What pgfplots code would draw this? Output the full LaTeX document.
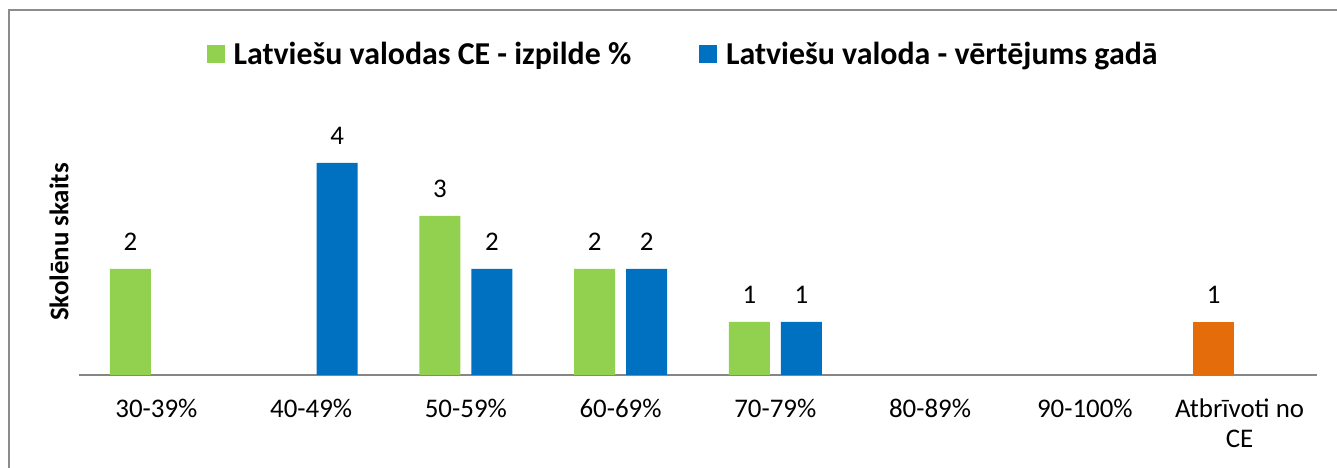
\documentclass[border=0pt]{standalone}
\usepackage{fontspec}
\setmainfont{Carlito}
\usepackage{pgfplots}
\pgfplotsset{compat=1.18}
\definecolor{cegreen}{HTML}{92D050}
\definecolor{gblue}{HTML}{0070C0}
\definecolor{exorange}{HTML}{E46C0A}
\definecolor{axgray}{HTML}{868686}
\definecolor{framegray}{HTML}{8C8C8C}

\begin{document}
\begin{tikzpicture}[x=1bp,y=1bp]
\useasboundingbox (0,0) rectangle (1337,468);
\draw[framegray, line width=1.5bp] (9,0) -- (9,458) -- (1337,458);
\node[rotate=90, font=\fontsize{27}{32}\selectfont\bfseries] at (59,226) {Skolēnu skaits};
\begin{axis}[
  at={(79bp,93bp)}, anchor=south west,
  scale only axis, width=1238bp, height=265bp,
  xmin=-0.5, xmax=7.5, ymin=0, ymax=5,
  axis y line=none, axis x line*=bottom,
  x axis line style={draw=axgray, line width=1.5bp, -},
  ytick=\empty,
  xtick={0,1,2,3,4,5,6,7}, major tick length=0pt,
  xticklabels={30-39\%,40-49\%,50-59\%,60-69\%,70-79\%,80-89\%,90-100\%,
    {\begin{tabular}[t]{@{}c@{}}Atbrīvoti no\\CE\end{tabular}}},
  xticklabel style={font=\fontsize{27}{30}\selectfont, anchor=base, yshift=-43bp},
  ybar, bar width=41bp,
  nodes near coords,
  nodes near coords style={font=\fontsize{27}{30}\selectfont, anchor=base, yshift=18bp, /pgf/number format/assume math mode=true},
  legend columns=2,
  legend style={draw=none, at={(0.488,1.211)}, anchor=center,
    font=\fontsize{32}{38}\selectfont\bfseries,
    /tikz/every even column/.append style={column sep=66bp},
    cells={anchor=west}},
  legend image code/.code={\fill[#1] (0bp,-9bp) rectangle (18bp,9bp); \path (25bp,0bp);},
  clip=false,
]
\addplot[fill=cegreen, draw=none, bar shift=-26bp] coordinates {(0,2) (2,3) (3,2) (4,1)};
\addlegendentry{Latviešu valodas CE - izpilde \%}
\addplot[fill=gblue, draw=none, bar shift=26bp] coordinates {(1,4) (2,2) (3,2) (4,1)};
\addlegendentry{Latviešu valoda - vērtējums gadā}
\addplot[fill=exorange, draw=none, bar shift=-26bp, forget plot] coordinates {(7,1)};
\end{axis}
\end{tikzpicture}
\end{document}
